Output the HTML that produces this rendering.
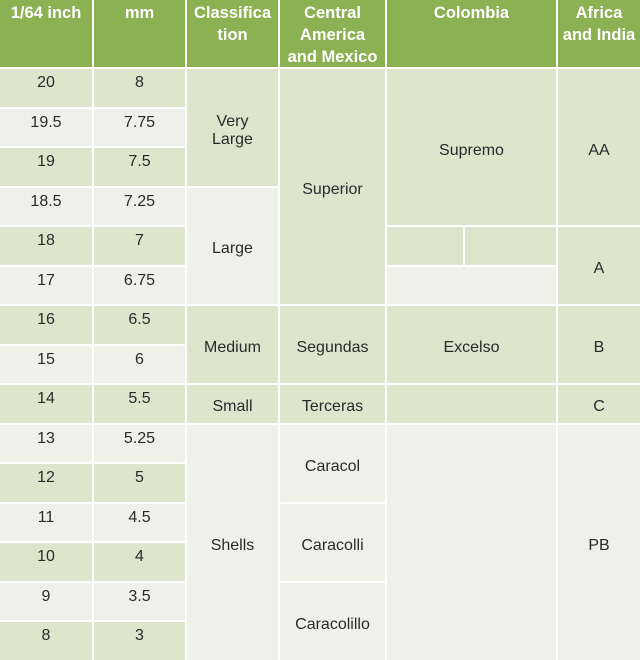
<!DOCTYPE html>
<html><head><meta charset="utf-8"><style>
html,body{margin:0;width:640px;height:645px;overflow:hidden;background:#fff;font-family:"Liberation Sans",sans-serif;}
.c{position:absolute;box-sizing:border-box;display:flex;align-items:center;justify-content:center;text-align:center;color:#2a2a2a;font-size:16px;padding-top:7px;}
.h{background:#8cb152;color:#fff;font-weight:bold;font-size:16.5px;line-height:22px;align-items:flex-start;padding-top:2px;}
.d{background:#dee5cd}.l{background:#eff0e8}
.t{align-items:flex-start;padding-top:5px}
</style></head><body><div id="r"></div>
<script>
var X=[0,94,187,280,387,558,642];
var T=function(i){return 69+i*39.5};
var out='';
function cell(c0,c1,r0,r1,cls,txt){
 var x=X[c0],w=X[c1]-x-2,y=(r0<0?0:T(r0)),h=(r0<0?67:T(r1)-y-2);
 out+='<div class="c '+cls+'" style="left:'+x+'px;top:'+y+'px;width:'+w+'px;height:'+h+'px">'+txt+'</div>';
}
function cellx(x,w,r0,r1,cls,txt){var y=T(r0),h=T(r1)-y-2;out+='<div class="c '+cls+'" style="left:'+x+'px;top:'+y+'px;width:'+w+'px;height:'+h+'px">'+txt+'</div>';}
cell(0,1,-1,0,'h','1/64 inch');cell(1,2,-1,0,'h','mm');cell(2,3,-1,0,'h','Classifica<br>tion');
cell(3,4,-1,0,'h','Central<br>America<br>and Mexico');cell(4,5,-1,0,'h','Colombia');cell(5,6,-1,0,'h','Africa<br>and India');
var a=['20','19.5','19','18.5','18','17','16','15','14','13','12','11','10','9','8'];
var b=['8','7.75','7.5','7.25','7','6.75','6.5','6','5.5','5.25','5','4.5','4','3.5','3'];
for(var i=0;i<15;i++){var k=i%2?'l':'d';cell(0,1,i,i+1,k+' t',a[i]);cell(1,2,i,i+1,k+' t',b[i]);}
cell(2,3,0,3,'d','Very<br>Large');cell(2,3,3,6,'l','Large');cell(2,3,6,8,'d','Medium');cell(2,3,8,9,'d','Small');cell(2,3,9,15,'l','Shells');
cell(3,4,0,6,'d','Superior');cell(3,4,6,8,'d','Segundas');cell(3,4,8,9,'d','Terceras');cell(3,4,9,11,'l','Caracol');cell(3,4,11,13,'l','Caracolli');cell(3,4,13,15,'l','Caracolillo');
cell(4,5,0,4,'d','Supremo');cellx(387,76,4,5,'d','');cellx(465,91,4,5,'d','');cell(4,5,5,6,'l','');cell(4,5,6,8,'d','Excelso');cell(4,5,8,9,'d','');cell(4,5,9,15,'l','');
cell(5,6,0,4,'d','AA');cell(5,6,4,6,'d','A');cell(5,6,6,8,'d','B');cell(5,6,8,9,'d','C');cell(5,6,9,15,'l','PB');
document.getElementById('r').innerHTML=out;
</script></body></html>
